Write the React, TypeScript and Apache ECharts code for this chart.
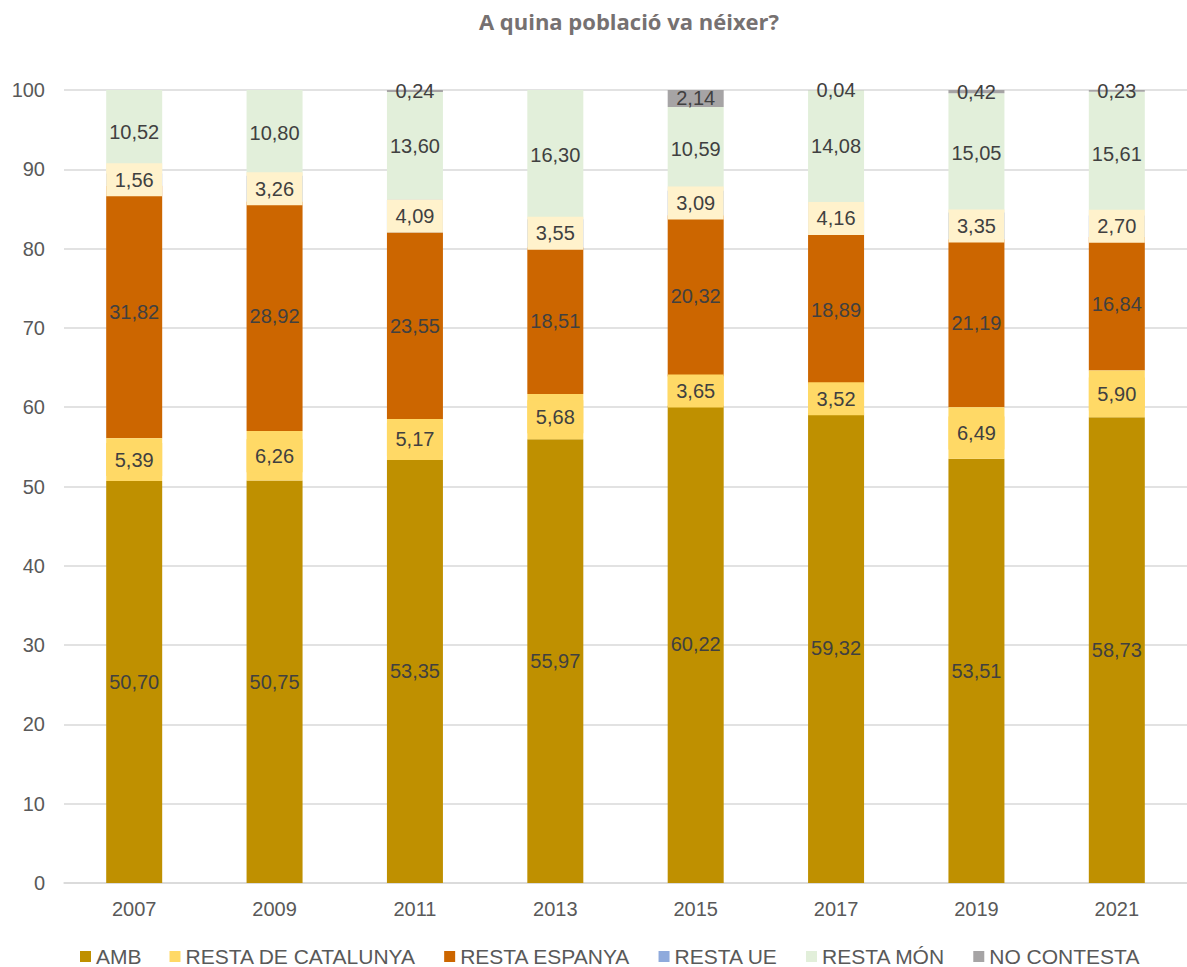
import React, { useEffect, useRef } from "react";
import * as echarts from "echarts";

const years = ["2007", "2009", "2011", "2013", "2015", "2017", "2019", "2021"];
const amb = [50.7, 50.75, 53.35, 55.97, 60.22, 59.32, 53.51, 58.73];
const restaCatalunya = [5.39, 6.26, 5.17, 5.68, 3.65, 3.52, 6.49, 5.9];
const restaEspanya = [31.82, 28.92, 23.55, 18.51, 20.32, 18.89, 21.19, 16.84];
const restaUE = [1.56, 3.26, 4.09, 3.55, 3.09, 4.16, 3.35, 2.7];
const restaMon = [10.52, 10.8, 13.6, 16.3, 10.59, 14.08, 15.05, 15.61];
const noContesta = [null, null, 0.24, null, 2.14, 0.04, 0.42, 0.23];

const FONT = "'Liberation Sans', Arial, sans-serif";
const fmt = (p: any) =>
  p.value == null ? "" : Number(p.value).toFixed(2).replace(".", ",");

export default function App() {
  const ref = useRef<HTMLDivElement>(null);
  useEffect(() => {
    if (!ref.current) return;
    const chart = echarts.init(ref.current, undefined, { renderer: "svg" });
    const baseLabel = {
      show: true,
      position: "inside",
      formatter: fmt,
      color: "#404040",
      fontSize: 20,
      fontFamily: FONT,
    };
    const boxLabel = (bg: string) => ({
      ...baseLabel,
      backgroundColor: bg,
      width: 40,
      align: "center",
      lineHeight: 22,
      padding: [6, 8, 5, 8],
    });
    const mk = (name: string, data: any[], color: string, label: any, z = 2) => ({
      name,
      type: "bar",
      stack: "total",
      data,
      barWidth: 56,
      z,
      itemStyle: { color },
      label,
      emphasis: { disabled: true },
    });
    chart.setOption({
      animation: false,
      title: {
        text: "A quina població va néixer?",
        left: 624,
        textAlign: "center",
        top: 5,
        textStyle: {
          color: "#767171",
          fontSize: 22,
          fontWeight: "bold",
          fontFamily: "'Open Sans', sans-serif",
        },
      },
      legend: {
        left: 80,
        top: 946,
        padding: 0,
        itemWidth: 11,
        itemHeight: 11,
        itemGap: 28,
        itemTextGap: 5,
        icon: "rect",
        textStyle: { color: "#595959", fontSize: 21, lineHeight: 20, fontFamily: FONT },
        data: ["AMB", "RESTA DE CATALUNYA", "RESTA ESPANYA", "RESTA UE", "RESTA MÓN", "NO CONTESTA"],
      },
      grid: { left: 64, right: -6, top: 90, bottom: 84, containLabel: false },
      xAxis: {
        type: "category",
        data: years,
        axisLine: { lineStyle: { color: "#d9d9d9", width: 1.5 } },
        axisTick: { show: false },
        axisLabel: { color: "#595959", fontSize: 20, fontFamily: FONT, margin: 16 },
      },
      yAxis: {
        type: "value",
        min: 0,
        max: 100,
        interval: 10,
        axisLine: { show: false },
        axisTick: { show: false },
        splitLine: { lineStyle: { color: "#d9d9d9", width: 1.5 } },
        axisLabel: { color: "#595959", fontSize: 20, fontFamily: FONT, margin: 19 },
      },
      series: [
        mk("AMB", amb, "#bf9000", baseLabel),
        mk("RESTA DE CATALUNYA", restaCatalunya, "#ffd966", boxLabel("#ffd966"), 3),
        mk("RESTA ESPANYA", restaEspanya, "#cc6600", baseLabel),
        mk("RESTA UE", restaUE, "#8faadc", boxLabel("#fff2cc"), 3),
        mk("RESTA MÓN", restaMon, "#e2efda", baseLabel),
        mk("NO CONTESTA", noContesta, "#a6a4a5", baseLabel),
      ],
    });
    return () => chart.dispose();
  }, []);
  return (
    <div
      ref={ref}
      style={{ position: "fixed", left: 0, top: 0, width: 1187, height: 967, background: "#fff" }}
    />
  );
}
